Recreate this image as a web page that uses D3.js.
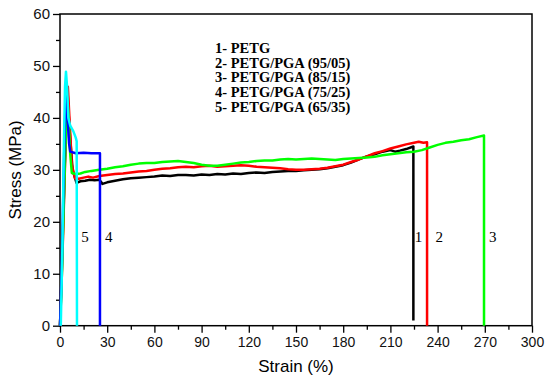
<!DOCTYPE html>
<html>
<head>
<meta charset="utf-8">
<script src="https://cdn.jsdelivr.net/npm/d3@7"></script>
<style>
  body { margin: 0; background: #fff; }
  svg { display: block; }
  .tick text { font-family: "Liberation Sans", Arial, sans-serif; fill: #111; }
  .xax .tick text { font-size: 14px; }
  .yax .tick text { font-size: 15px; }
</style>
</head>
<body>
<svg width="550" height="380"></svg>
<script>
// stress-strain curves, values
const petgX = [0, 1, 2, 3, 4, 4.8, 6, 8, 10.5, 13, 16, 19, 22, 25, 27, 30, 35, 40, 45, 50, 55, 60, 65, 70, 75, 80, 85, 90, 95, 100, 105, 110, 115, 120, 125, 130, 135, 140, 145, 150, 155, 160, 165, 170, 175, 180, 185, 190, 195, 200, 205, 210, 213, 216, 220, 224.6, 224.6]
const petgY = [0, 9, 20, 31, 41, 45, 38, 30, 27.5, 27.8, 27.9, 28.1, 28, 28.1, 27.3, 27.6, 27.9, 28.2, 28.4, 28.5, 28.6, 28.7, 28.9, 28.8, 29, 29, 28.9, 29.1, 29.0, 29.2, 29.1, 29.3, 29.2, 29.4, 29.5, 29.4, 29.6, 29.7, 29.8, 29.8, 29.9, 30, 30.1, 30.3, 30.6, 30.9, 31.4, 32, 32.6, 33, 33.5, 33.8, 33.5, 33.7, 34, 34.5, 1]

const pga05X = [0, 1, 2, 3, 4, 5, 6, 7.5, 9.5, 12, 15, 18, 21, 25, 30, 35, 40, 45, 50, 55, 60, 65, 70, 75, 80, 85, 90, 95, 100, 105, 110, 115, 120, 125, 130, 135, 140, 145, 150, 155, 160, 165, 170, 175, 180, 185, 190, 195, 200, 205, 210, 215, 220, 225, 228, 231, 233.3, 233.3]
const pga05Y = [0, 8, 18, 29, 39, 46, 40, 31, 28.4, 28.3, 28.5, 28.7, 28.5, 28.8, 29, 29.2, 29.3, 29.5, 29.7, 29.8, 30, 30.2, 30.3, 30.5, 30.6, 30.5, 30.7, 30.8, 30.6, 30.7, 30.8, 30.9, 30.8, 30.6, 30.5, 30.4, 30.3, 30.1, 30.0, 30.0, 30.1, 30.2, 30.4, 30.7, 31, 31.5, 32, 32.6, 33.2, 33.6, 34.1, 34.5, 34.9, 35.2, 35.4, 35.2, 35.3, 0]

const pga15X = [0, 1, 2, 3, 4.5, 5.5, 6.5, 7.5, 10, 13, 16, 20, 25, 30, 35, 40, 45, 50, 55, 60, 65, 70, 75, 80, 85, 90, 95, 100, 105, 110, 115, 120, 125, 130, 135, 140, 145, 150, 155, 160, 165, 170, 175, 180, 185, 190, 195, 200, 205, 210, 215, 220, 225, 230, 235, 240, 245, 250, 255, 260, 265, 269.5, 269.5]
const pga15Y = [0, 8, 19, 30, 44, 40, 33, 29.4, 29.2, 29.3, 29.6, 29.8, 30, 30.2, 30.5, 30.7, 31, 31.2, 31.3, 31.3, 31.5, 31.6, 31.7, 31.5, 31.3, 31.0, 30.8, 30.8, 31, 31.2, 31.4, 31.5, 31.7, 31.8, 31.8, 32, 32.1, 32, 32.1, 32.2, 32.1, 32.0, 31.9, 32.1, 32.2, 32.3, 32.4, 32.5, 32.8, 33, 33.2, 33.4, 33.5, 33.8, 34.3, 34.8, 35.2, 35.4, 35.7, 35.9, 36.3, 36.6, 0]

const pga25X = [0, 1, 2, 3, 3.8, 4.8, 5.8, 6.5, 10, 15, 20, 25.4, 25.4]
const pga25Y = [0, 10, 24, 38, 45, 40, 35, 33.5, 33.2, 33.3, 33.2, 33.2, 0]

const pga35X = [0.5, 1.5, 2.5, 3.2, 3.8, 4.5, 5.3, 6.5, 8.5, 10, 10.6, 10.8]
const pga35Y = [0, 15, 35, 46, 48.9, 46, 40, 38.5, 37.4, 36.2, 35.5, 0]

const legendNames = ['1- PETG', '2- PETG/PGA (95/05)', '3- PETG/PGA (85/15)', '4- PETG/PGA (75/25)', '5- PETG/PGA (65/35)']
const curveColors = ['#000000', '#ff0000', '#00ff00', '#0000ff', '#00ffff']

// little number tags next to the break lines
const tagText = ['5', '4', '1', '2', '3']
const tagX = [15.9, 31, 227.8, 241, 275]
const tagY = [16.1, 16.1, 16.1, 16.1, 16.1]

const xTicks = d3.range(0, 301, 30)
const yTicks = d3.range(0, 61, 10)

const svg = d3.select('svg')
const padL = 60, padR = 532, padT = 14, padB = 325.7

const x = d3.scaleLinear().domain([0, 300]).range([padL, padR])
const y = d3.scaleLinear().domain([0, 60]).range([padB, padT])

// minor ticks first (no labels)
svg.append('g')
  .attr('transform', `translate(0,${padB})`)
  .call(d3.axisBottom(x).tickValues(d3.range(15, 300, 30)).tickSize(4).tickFormat(''))
  .call(g => g.select('.domain').remove())
svg.append('g')
  .attr('transform', `translate(${padL},0)`)
  .call(d3.axisLeft(y).tickValues(d3.range(5, 60, 10)).tickSize(4).tickFormat(''))
  .call(g => g.select('.domain').remove())

const xAxis = svg.append('g')
  .attr('class', 'xax')
  .attr('transform', `translate(0,${padB})`)
  .call(d3.axisBottom(x).tickValues(xTicks).tickSize(7).tickPadding(4))
xAxis.select('.domain').remove()

const yAxis = svg.append('g')
  .attr('class', 'yax')
  .attr('transform', `translate(${padL},0)`)
  .call(d3.axisLeft(y).tickValues(yTicks).tickSize(7).tickPadding(3))
yAxis.select('.domain').remove()

svg.selectAll('.tick line').attr('stroke', '#000').attr('stroke-width', 1.3)

// frame
svg.append('rect')
  .attr('x', padL).attr('y', padT)
  .attr('width', padR - padL).attr('height', padB - padT)
  .attr('fill', 'none').attr('stroke', '#000').attr('stroke-width', 1.5)

const series = [
  [petgX, petgY], [pga05X, pga05Y], [pga15X, pga15Y], [pga25X, pga25Y], [pga35X, pga35Y]
]

const line = d3.line()
  .x(d => x(d[0]))
  .y(d => y(d[1]))

series.forEach((s, i) => {
  const pts = s[0].map((v, j) => [v, s[1][j]])
  svg.append('path')
    .datum(pts)
    .attr('d', line)
    .attr('fill', 'none')
    .attr('stroke', curveColors[i])
    .attr('stroke-width', 2.5)
    .attr('stroke-linejoin', 'round')
})

// curve tags
svg.selectAll('.tag')
  .data(tagText)
  .enter().append('text')
    .attr('class', 'tag')
    .attr('x', (d, i) => x(tagX[i]))
    .attr('y', (d, i) => y(tagY[i]))
    .attr('text-anchor', 'middle')
    .attr('font-family', '"Liberation Serif", "Times New Roman", serif')
    .attr('font-size', 15)
    .text(d => d)

// legend block
svg.selectAll('.legend')
  .data(legendNames)
  .enter().append('text')
    .attr('class', 'legend')
    .attr('x', 215)
    .attr('y', (d, i) => 53 + i * 14.7)
    .attr('font-family', '"Liberation Serif", "Times New Roman", serif')
    .attr('font-weight', 'bold')
    .attr('font-size', 14.5)
    .text(d => d)

// axis titles
svg.append('text')
  .attr('x', (padL + padR) / 2)
  .attr('y', 372)
  .attr('text-anchor', 'middle')
  .attr('font-family', '"Liberation Sans", Arial, sans-serif')
  .attr('font-size', 17)
  .text('Strain (%)')

svg.append('text')
  .attr('transform', `translate(21,${(padT + padB) / 2}) rotate(-90)`)
  .attr('text-anchor', 'middle')
  .attr('font-family', '"Liberation Sans", Arial, sans-serif')
  .attr('font-size', 17)
  .text('Stress (MPa)')
</script>
</body>
</html>
